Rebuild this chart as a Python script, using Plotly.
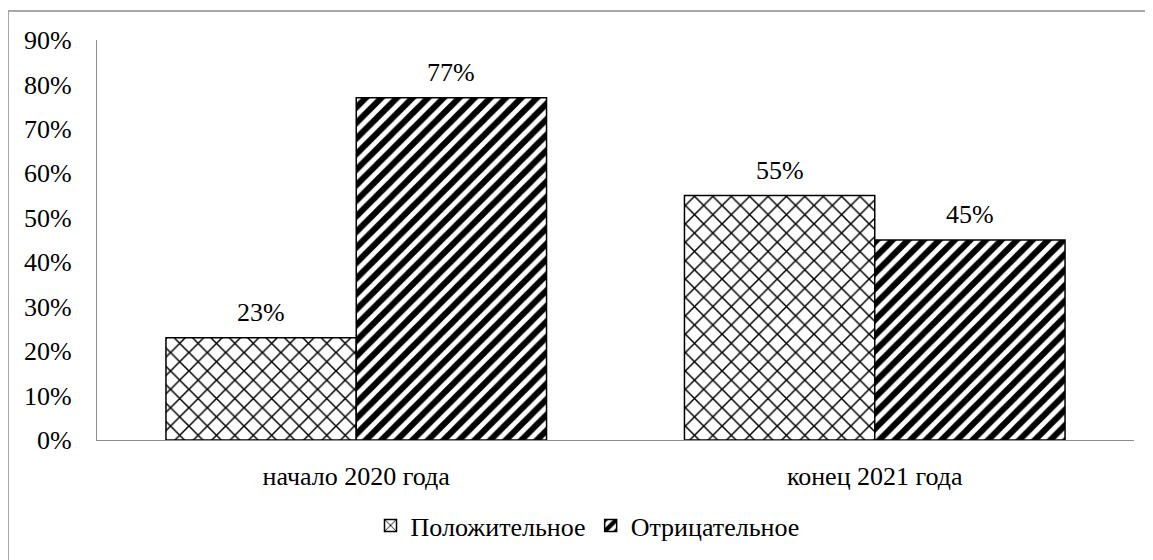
import plotly.graph_objects as go

categories = ["начало 2020 года", "конец 2021 года"]
series_names = ["Положительное", "Отрицательное"]
positive = [23, 55]
negative = [77, 45]
y_ticks = [0, 10, 20, 30, 40, 50, 60, 70, 80, 90]
y_tick_labels = [f"{v}%" for v in y_ticks]

# page body has an 8px margin; figure is sized so it fills the window
W, H = 1145, 552
ml, mr, mt, mb = 89, 19, 32, 120
font = dict(family="Times New Roman, Liberation Serif, serif", size=26, color="black")

fig = go.Figure()
fig.add_trace(go.Bar(
    name=series_names[0], x=categories, y=positive,
    marker=dict(color="white", line=dict(color="black", width=1.5),
                pattern=dict(shape="x", fgcolor="black", bgcolor="white", size=13,
                             solidity=0.22, fgopacity=1)),
))
fig.add_trace(go.Bar(
    name=series_names[1], x=categories, y=negative,
    marker=dict(color="white", line=dict(color="black", width=1.5),
                pattern=dict(shape="/", fgcolor="black", bgcolor="white", size=11,
                             solidity=0.55, fgopacity=1)),
))

annotations = []
for i, c in enumerate(categories):
    for j, vals in enumerate([positive, negative]):
        annotations.append(dict(
            x=c, y=vals[i], xref="x", yref="y", text=f"{vals[i]}%",
            showarrow=False, yanchor="bottom", yshift=9,
            xshift=(-95 if j == 0 else 95), font=font,
        ))

pw = W - ml - mr
ph = H - mt - mb
shapes = [dict(type="rect", xref="paper", yref="paper",
               x0=(0 - ml) / pw, x1=(W + 20 - ml) / pw,
               y0=(H - mb - (H + 20)) / ph, y1=(H - mb - 3) / ph,
               line=dict(color="#8c8c8c", width=1.5), fillcolor="rgba(0,0,0,0)", layer="below")]

fig.update_layout(
    width=W, height=H, margin=dict(l=ml, r=mr, t=mt, b=mb, autoexpand=False),
    paper_bgcolor="white", plot_bgcolor="white",
    barmode="group", bargap=0.266, bargroupgap=0,
    font=font, annotations=annotations, shapes=shapes,
    legend=dict(orientation="h", x=0.473, xanchor="center", y=-0.155, yanchor="top",
                font=font, itemwidth=30, tracegroupgap=0),
    showlegend=True,
)
fig.update_yaxes(range=[0, 90], tickvals=y_ticks, ticktext=y_tick_labels,
                 showgrid=False, showline=True, linecolor="#8c8c8c", linewidth=1.2,
                 ticks="", zeroline=False, ticklabelstandoff=19)
fig.update_xaxes(showgrid=False, showline=True, linecolor="#8c8c8c", linewidth=1.2,
                 ticks="", ticklabelstandoff=13)

fig.write_html("out.html")
